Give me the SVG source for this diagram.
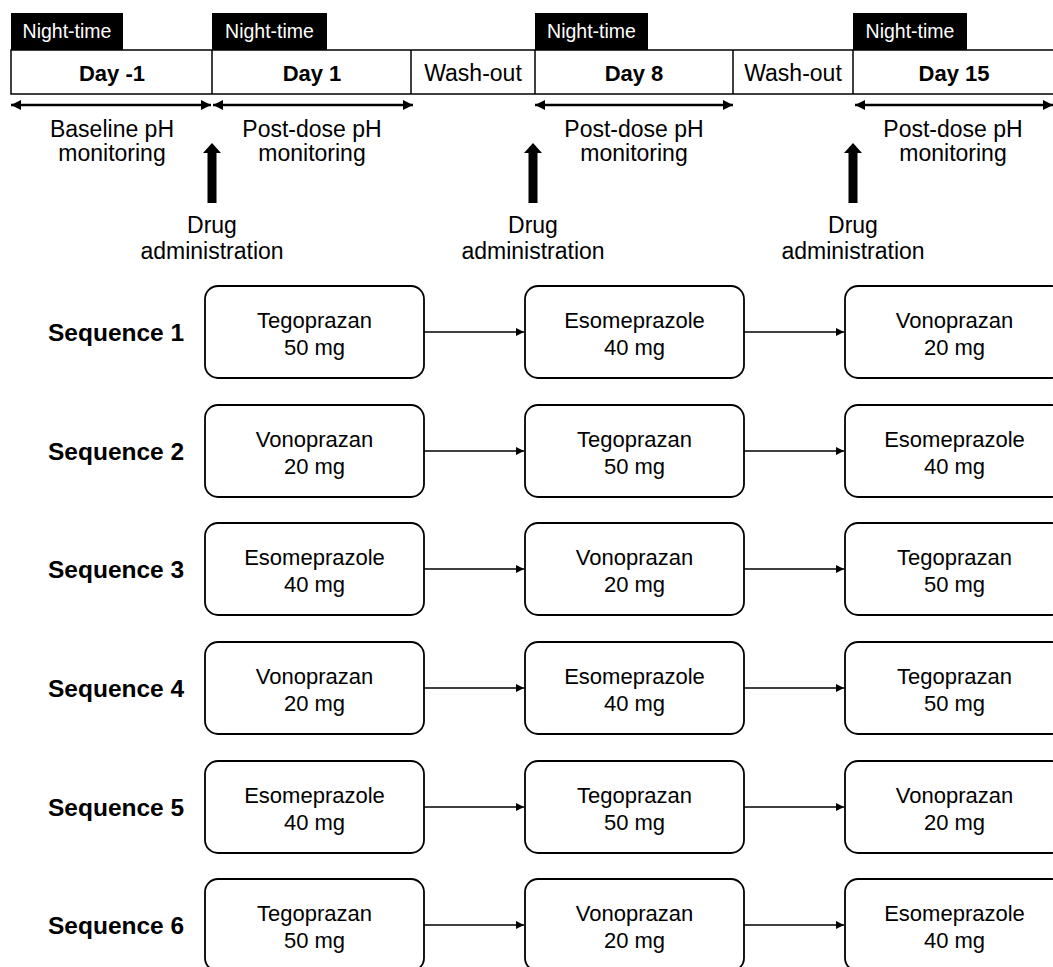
<svg xmlns="http://www.w3.org/2000/svg" width="1053" height="967" viewBox="0 0 1053 967">
<defs>
<marker id="ah" viewBox="0 0 10 10" refX="10" refY="5" markerWidth="10" markerHeight="10" markerUnits="userSpaceOnUse" orient="auto-start-reverse"><path d="M0,0 L10,5 L0,10 z" fill="#000"/></marker>
<marker id="sh" viewBox="0 0 10 10" refX="10" refY="5" markerWidth="8" markerHeight="8" markerUnits="userSpaceOnUse" orient="auto"><path d="M0,0 L10,5 L0,10 z" fill="#000"/></marker>
</defs>
<style>
text{font-family:"Liberation Sans",Arial,sans-serif;fill:#000;text-anchor:middle}
.nt{fill:#fff;font-size:19.5px}
.day{font-weight:bold;font-size:22px}
.lbl{font-size:23px}
.seq{font-weight:bold;font-size:24.5px;text-anchor:start}
.bx{font-size:22px}
.cell{fill:#fff;stroke:#000;stroke-width:1.5}
.node{fill:#fff;stroke:#000;stroke-width:1.8}
.dbl{stroke:#000;stroke-width:2.5;fill:none}
.con{stroke:#000;stroke-width:1.6;fill:none}
</style>
<rect width="1053" height="967" fill="#fff"/>
<g id="timeline">
<rect x="11" y="13" width="112" height="37" fill="#000"/>
<rect x="212" y="13" width="115" height="37" fill="#000"/>
<rect x="535" y="13" width="113" height="37" fill="#000"/>
<rect x="853" y="13" width="114" height="37" fill="#000"/>
<text class="nt" x="67" y="38">Night-time</text>
<text class="nt" x="269.5" y="38">Night-time</text>
<text class="nt" x="591.5" y="38">Night-time</text>
<text class="nt" x="910" y="38">Night-time</text>
<rect class="cell" x="11" y="50" width="1050" height="44"/>
<line x1="212" y1="50" x2="212" y2="94" stroke="#000" stroke-width="1.5"/>
<line x1="411" y1="50" x2="411" y2="94" stroke="#000" stroke-width="1.5"/>
<line x1="535" y1="50" x2="535" y2="94" stroke="#000" stroke-width="1.5"/>
<line x1="733" y1="50" x2="733" y2="94" stroke="#000" stroke-width="1.5"/>
<line x1="853" y1="50" x2="853" y2="94" stroke="#000" stroke-width="1.5"/>
<text class="day" x="112" y="81">Day -1</text>
<text class="day" x="312" y="81">Day 1</text>
<text class="lbl" x="473" y="81">Wash-out</text>
<text class="day" x="634" y="81">Day 8</text>
<text class="lbl" x="793" y="81">Wash-out</text>
<text class="day" x="954" y="81">Day 15</text>
<line class="dbl" x1="11" y1="105" x2="211" y2="105" marker-start="url(#ah)" marker-end="url(#ah)"/>
<line class="dbl" x1="213" y1="105" x2="413" y2="105" marker-start="url(#ah)" marker-end="url(#ah)"/>
<line class="dbl" x1="535" y1="105" x2="733" y2="105" marker-start="url(#ah)" marker-end="url(#ah)"/>
<line class="dbl" x1="855" y1="105" x2="1053" y2="105" marker-start="url(#ah)" marker-end="url(#ah)"/>
<text class="lbl" x="112" y="137">Baseline pH</text>
<text class="lbl" x="112" y="161">monitoring</text>
<text class="lbl" x="312" y="137">Post-dose pH</text>
<text class="lbl" x="312" y="161">monitoring</text>
<text class="lbl" x="634" y="137">Post-dose pH</text>
<text class="lbl" x="634" y="161">monitoring</text>
<text class="lbl" x="953" y="137">Post-dose pH</text>
<text class="lbl" x="953" y="161">monitoring</text>
<path d="M207.5,203 V153 H203 L212,143 L221,153 H216.5 V203 z" fill="#000"/>
<path d="M528.5,203 V153 H524 L533,143 L542,153 H537.5 V203 z" fill="#000"/>
<path d="M848.5,203 V153 H844 L853,143 L862,153 H857.5 V203 z" fill="#000"/>
<text class="lbl" x="212" y="233">Drug</text>
<text class="lbl" x="212" y="259">administration</text>
<text class="lbl" x="533" y="233">Drug</text>
<text class="lbl" x="533" y="259">administration</text>
<text class="lbl" x="853" y="233">Drug</text>
<text class="lbl" x="853" y="259">administration</text>
</g>
<g id="labels">
<text class="seq" x="48" y="341">Sequence 1</text>
<text class="seq" x="48" y="460">Sequence 2</text>
<text class="seq" x="48" y="578">Sequence 3</text>
<text class="seq" x="48" y="697">Sequence 4</text>
<text class="seq" x="48" y="816">Sequence 5</text>
<text class="seq" x="48" y="934">Sequence 6</text>
</g>
<g id="s1a"><rect class="node" x="205" y="286" width="219" height="92" rx="13"/><text class="bx" x="314.5" y="328">Tegoprazan</text><text class="bx" x="314.5" y="355">50 mg</text></g>
<g id="s1b"><rect class="node" x="525" y="286" width="219" height="92" rx="13"/><text class="bx" x="634.5" y="328">Esomeprazole</text><text class="bx" x="634.5" y="355">40 mg</text></g>
<g id="s1c"><rect class="node" x="845" y="286" width="219" height="92" rx="13"/><text class="bx" x="954.5" y="328">Vonoprazan</text><text class="bx" x="954.5" y="355">20 mg</text></g>
<g id="s2a"><rect class="node" x="205" y="405" width="219" height="92" rx="13"/><text class="bx" x="314.5" y="447">Vonoprazan</text><text class="bx" x="314.5" y="474">20 mg</text></g>
<g id="s2b"><rect class="node" x="525" y="405" width="219" height="92" rx="13"/><text class="bx" x="634.5" y="447">Tegoprazan</text><text class="bx" x="634.5" y="474">50 mg</text></g>
<g id="s2c"><rect class="node" x="845" y="405" width="219" height="92" rx="13"/><text class="bx" x="954.5" y="447">Esomeprazole</text><text class="bx" x="954.5" y="474">40 mg</text></g>
<g id="s3a"><rect class="node" x="205" y="523" width="219" height="92" rx="13"/><text class="bx" x="314.5" y="565">Esomeprazole</text><text class="bx" x="314.5" y="592">40 mg</text></g>
<g id="s3b"><rect class="node" x="525" y="523" width="219" height="92" rx="13"/><text class="bx" x="634.5" y="565">Vonoprazan</text><text class="bx" x="634.5" y="592">20 mg</text></g>
<g id="s3c"><rect class="node" x="845" y="523" width="219" height="92" rx="13"/><text class="bx" x="954.5" y="565">Tegoprazan</text><text class="bx" x="954.5" y="592">50 mg</text></g>
<g id="s4a"><rect class="node" x="205" y="642" width="219" height="92" rx="13"/><text class="bx" x="314.5" y="684">Vonoprazan</text><text class="bx" x="314.5" y="711">20 mg</text></g>
<g id="s4b"><rect class="node" x="525" y="642" width="219" height="92" rx="13"/><text class="bx" x="634.5" y="684">Esomeprazole</text><text class="bx" x="634.5" y="711">40 mg</text></g>
<g id="s4c"><rect class="node" x="845" y="642" width="219" height="92" rx="13"/><text class="bx" x="954.5" y="684">Tegoprazan</text><text class="bx" x="954.5" y="711">50 mg</text></g>
<g id="s5a"><rect class="node" x="205" y="761" width="219" height="92" rx="13"/><text class="bx" x="314.5" y="803">Esomeprazole</text><text class="bx" x="314.5" y="830">40 mg</text></g>
<g id="s5b"><rect class="node" x="525" y="761" width="219" height="92" rx="13"/><text class="bx" x="634.5" y="803">Tegoprazan</text><text class="bx" x="634.5" y="830">50 mg</text></g>
<g id="s5c"><rect class="node" x="845" y="761" width="219" height="92" rx="13"/><text class="bx" x="954.5" y="803">Vonoprazan</text><text class="bx" x="954.5" y="830">20 mg</text></g>
<g id="s6a"><rect class="node" x="205" y="879" width="219" height="92" rx="13"/><text class="bx" x="314.5" y="921">Tegoprazan</text><text class="bx" x="314.5" y="948">50 mg</text></g>
<g id="s6b"><rect class="node" x="525" y="879" width="219" height="92" rx="13"/><text class="bx" x="634.5" y="921">Vonoprazan</text><text class="bx" x="634.5" y="948">20 mg</text></g>
<g id="s6c"><rect class="node" x="845" y="879" width="219" height="92" rx="13"/><text class="bx" x="954.5" y="921">Esomeprazole</text><text class="bx" x="954.5" y="948">40 mg</text></g>
<g id="connectors">
<line class="con" x1="424" y1="332" x2="524" y2="332" marker-end="url(#sh)"/>
<line class="con" x1="744" y1="332" x2="844" y2="332" marker-end="url(#sh)"/>
<line class="con" x1="424" y1="451" x2="524" y2="451" marker-end="url(#sh)"/>
<line class="con" x1="744" y1="451" x2="844" y2="451" marker-end="url(#sh)"/>
<line class="con" x1="424" y1="569" x2="524" y2="569" marker-end="url(#sh)"/>
<line class="con" x1="744" y1="569" x2="844" y2="569" marker-end="url(#sh)"/>
<line class="con" x1="424" y1="688" x2="524" y2="688" marker-end="url(#sh)"/>
<line class="con" x1="744" y1="688" x2="844" y2="688" marker-end="url(#sh)"/>
<line class="con" x1="424" y1="807" x2="524" y2="807" marker-end="url(#sh)"/>
<line class="con" x1="744" y1="807" x2="844" y2="807" marker-end="url(#sh)"/>
<line class="con" x1="424" y1="925" x2="524" y2="925" marker-end="url(#sh)"/>
<line class="con" x1="744" y1="925" x2="844" y2="925" marker-end="url(#sh)"/>
</g>
</svg>
